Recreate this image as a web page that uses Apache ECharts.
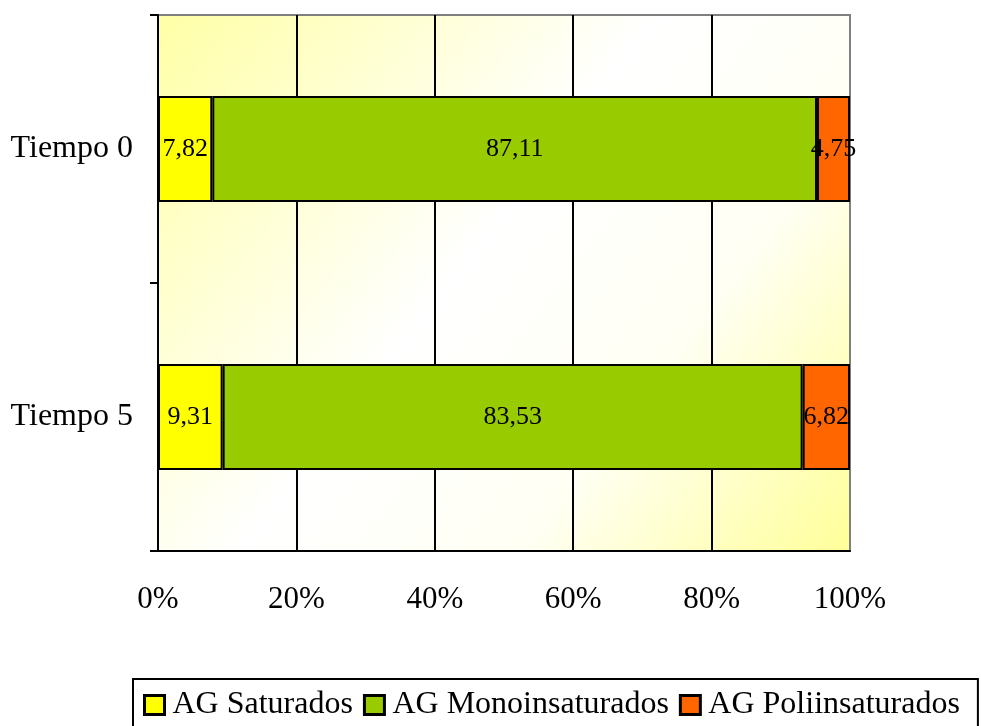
<!DOCTYPE html>
<html><head><meta charset="utf-8">
<script src="https://cdn.jsdelivr.net/npm/echarts@6/dist/echarts.min.js"></script>
<style>html,body{margin:0;padding:0;background:#fff}#c{width:981px;height:726px}</style>
</head><body><div id="c"></div>
<script>
const categories = ['Tiempo 0', 'Tiempo 5'];
const seriesNames = ['AG Saturados', 'AG Monoinsaturados', 'AG Poliinsaturados'];
const saturados = [7.82, 9.31];
const monoinsaturados = [87.11, 83.53];
const poliinsaturados = [4.75, 6.82];
const xTicks = [0, 20, 40, 60, 80, 100];
const colors = ['#FFFF00', '#99CC00', '#FF6600'];

const raw = [saturados, monoinsaturados, poliinsaturados];
const totals = categories.map((_, i) => raw.reduce((s, a) => s + a[i], 0));
const font = 'Liberation Serif';

const chart = echarts.init(document.getElementById('c'));
chart.setOption({
  animation: false,
  textStyle: { fontFamily: font },
  grid: {
    left: 158, right: 131, top: 15, bottom: 175,
    show: true,
    borderColor: '#808080', borderWidth: 2,
    backgroundColor: new echarts.graphic.LinearGradient(0, 0, 1, 1, [
      { offset: 0, color: '#FFFFA6' },
      { offset: 0.45, color: '#FFFFFF' },
      { offset: 0.7, color: '#FFFFF4' },
      { offset: 1, color: '#FFFF99' }
    ])
  },
  legend: {
    left: 133, top: 679,
    data: seriesNames.map(n => ({ name: n, icon: 'rect' })),
    itemWidth: 20, itemHeight: 19, itemGap: 10,
    borderColor: '#000', borderWidth: 2,
    padding: [10, 18, 40, 10],
    textStyle: { fontFamily: font, fontSize: 32, color: '#000', padding: [0, 0, 0, 3] },
    itemStyle: { borderColor: '#000', borderWidth: 3 }
  },
  xAxis: {
    type: 'value', min: 0, max: 100, interval: 20,
    axisLine: { show: true, lineStyle: { color: '#000', width: 2 } },
    axisTick: { show: false },
    splitLine: { show: true, lineStyle: { color: ['#000', '#000', '#000', '#000', '#000', '#808080'], width: 2 } },
    axisLabel: { formatter: v => xTicks.includes(v) ? v + '%' : '', fontFamily: font, fontSize: 31, color: '#000', margin: 33 }
  },
  yAxis: {
    type: 'category', data: categories, inverse: true,
    axisLine: { show: true, lineStyle: { color: '#000', width: 2 } },
    axisTick: { show: true, length: 8, lineStyle: { color: '#000', width: 2 } },
    axisLabel: { fontFamily: font, fontSize: 32, color: '#000', margin: 25 }
  },
  series: raw.map((arr, k) => ({
    name: seriesNames[k],
    type: 'bar',
    stack: 'total',
    barWidth: '39.5%',
    data: arr.map((v, i) => ({ value: v / totals[i] * 100, raw: v })),
    itemStyle: { color: colors[k], borderColor: '#000', borderWidth: 2 },
    label: {
      show: true, position: 'inside',
      fontFamily: font, fontSize: 26, color: '#000',
      formatter: p => p.data.raw.toFixed(2).replace('.', ',')
    }
  }))
});
</script></body></html>
